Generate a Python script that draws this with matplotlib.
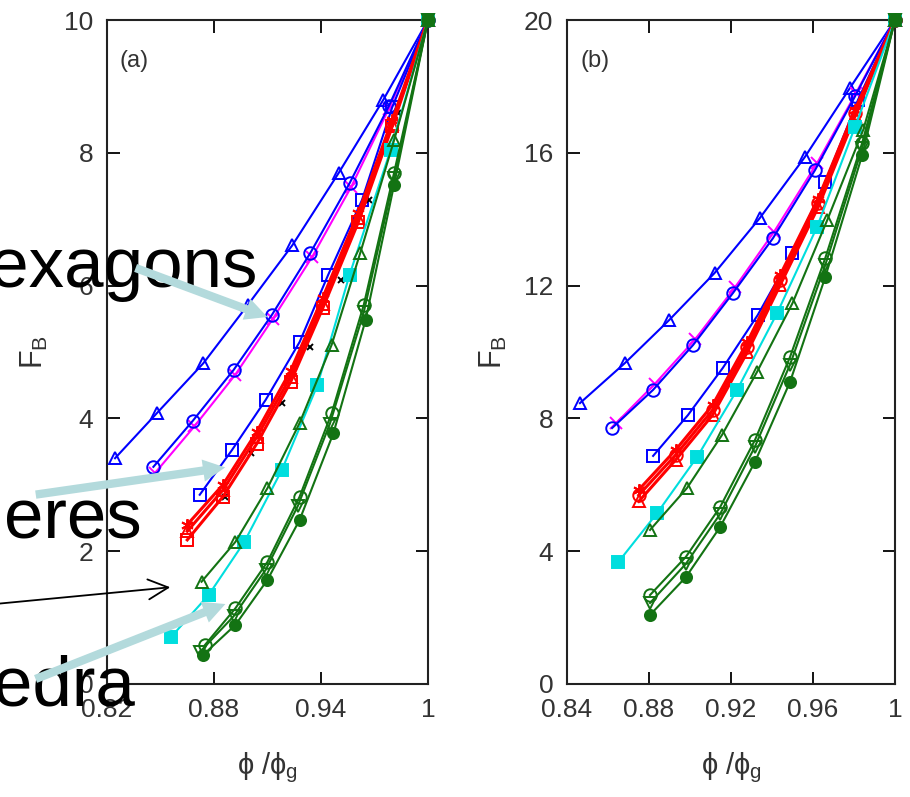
import matplotlib
matplotlib.use("Agg")
import matplotlib.pyplot as plt

plt.rcParams["font.family"] = ["Liberation Sans", "DejaVu Sans"]
plt.rcParams["mathtext.fontset"] = "custom"
plt.rcParams["mathtext.rm"] = "Liberation Sans"
plt.rcParams["mathtext.it"] = "Liberation Sans"

# ---- panel (a) data ----
a_tri_x = [0.8245, 0.848, 0.874, 0.899, 0.924, 0.950, 0.975, 1.0]
a_tri_y = [3.40, 4.08, 4.83, 5.71, 6.61, 7.70, 8.80, 10.0]
a_circ_x = [0.846, 0.868, 0.891, 0.9125, 0.934, 0.956, 0.978, 1.0]
a_circ_y = [3.27, 3.96, 4.73, 5.56, 6.49, 7.54, 8.70, 10.0]
a_mag_x = [0.847, 0.869, 0.892, 0.913, 0.935, 0.957, 0.978, 1.0]
a_mag_y = [3.18, 3.88, 4.66, 5.50, 6.43, 7.49, 8.66, 10.0]
a_sq_x = [0.872, 0.890, 0.909, 0.928, 0.944, 0.963, 0.980, 1.0]
a_sq_y = [2.85, 3.52, 4.28, 5.15, 6.16, 7.29, 8.69, 10.0]
a_blk_x = [0.886, 0.901, 0.918, 0.934, 0.951, 0.967, 0.983, 1.0]
a_blk_y = [2.82, 3.48, 4.23, 5.08, 6.08, 7.29, 8.60, 10.0]
a_red_x = [0.865, 0.885, 0.904, 0.923, 0.941, 0.961, 0.980, 1.0]
a_red1_y = [2.40, 3.00, 3.80, 4.72, 5.82, 7.10, 8.50, 10.0]
a_red2_y = [2.30, 2.92, 3.72, 4.63, 5.73, 7.02, 8.44, 10.0]
a_red3_y = [2.17, 2.82, 3.62, 4.55, 5.66, 6.96, 8.40, 10.0]
a_cyan_x = [0.856, 0.877, 0.897, 0.918, 0.938, 0.956, 0.979, 1.0]
a_cyan_y = [0.71, 1.34, 2.14, 3.22, 4.50, 6.16, 8.04, 10.0]
a_gtri_x = [0.873, 0.892, 0.910, 0.928, 0.946, 0.962, 0.981, 1.0]
a_gtri_y = [1.54, 2.14, 2.95, 3.93, 5.11, 6.49, 8.19, 10.0]
a_gcirc_x = [0.875, 0.892, 0.910, 0.928, 0.946, 0.964, 0.981, 1.0]
a_gcirc_y = [0.59, 1.14, 1.84, 2.82, 4.08, 5.71, 7.70, 10.0]
a_gdown_x = [0.872, 0.891, 0.909, 0.927, 0.945, 0.964, 0.981, 1.0]
a_gdown_y = [0.48, 1.02, 1.72, 2.68, 3.92, 5.60, 7.62, 10.0]
a_gfill_x = [0.874, 0.892, 0.910, 0.928, 0.947, 0.965, 0.981, 1.0]
a_gfill_y = [0.44, 0.89, 1.57, 2.47, 3.78, 5.48, 7.52, 10.0]

# ---- panel (b) data ----
b_tri_x = [0.8463, 0.8683, 0.8898, 0.912, 0.934, 0.956, 0.978, 1.0]
b_tri_y = [8.46, 9.67, 10.96, 12.38, 14.03, 15.87, 17.95, 20.0]
b_circ_x = [0.862, 0.882, 0.9015, 0.921, 0.9405, 0.961, 0.9805, 1.0]
b_circ_y = [7.71, 8.86, 10.21, 11.78, 13.43, 15.48, 17.70, 20.0]
b_mag_x = [0.864, 0.883, 0.9025, 0.922, 0.941, 0.962, 0.981, 1.0]
b_mag_y = [7.86, 9.05, 10.38, 11.95, 13.62, 15.69, 17.80, 20.0]
b_sq_x = [0.882, 0.899, 0.916, 0.933, 0.950, 0.966, 0.982, 1.0]
b_sq_y = [6.87, 8.10, 9.52, 11.11, 12.98, 15.12, 17.60, 20.0]
b_red_x = [0.875, 0.893, 0.911, 0.928, 0.944, 0.9625, 0.9805, 1.0]
b_red1_y = [5.85, 7.05, 8.40, 10.30, 12.32, 14.62, 17.30, 20.0]
b_red2_y = [5.69, 6.90, 8.25, 10.15, 12.17, 14.49, 17.20, 20.0]
b_red3_y = [5.50, 6.75, 8.10, 10.00, 12.02, 14.36, 17.10, 20.0]
b_cyan_x = [0.865, 0.884, 0.9035, 0.923, 0.9425, 0.962, 0.9805, 1.0]
b_cyan_y = [3.67, 5.15, 6.84, 8.86, 11.17, 13.77, 16.78, 20.0]
b_gtri_x = [0.8805, 0.8985, 0.9156, 0.9327, 0.950, 0.967, 0.9845, 1.0]
b_gtri_y = [4.64, 5.90, 7.50, 9.40, 11.47, 13.98, 16.69, 20.0]
b_gcirc_x = [0.8805, 0.898, 0.9147, 0.9317, 0.9488, 0.966, 0.984, 1.0]
b_gcirc_y = [2.68, 3.83, 5.33, 7.35, 9.85, 12.83, 16.30, 20.0]
b_gdown_y = [2.44, 3.62, 5.12, 7.15, 9.62, 12.62, 16.15, 20.0]
b_gfill_y = [2.08, 3.22, 4.73, 6.69, 9.10, 12.26, 15.93, 20.0]

BLUE = "#0000ff"
MAG = "#ff00ff"
RED = "#ff0000"
CYAN = "#00dede"
GREEN = "#137313"

fig = plt.figure(figsize=(9.1, 7.97), dpi=100)
axa = fig.add_axes([0.1176, 0.1418, 0.3527, 0.8331])
axb = fig.add_axes([0.6231, 0.1418, 0.3604, 0.8331])


def curve(ax, x, y, color, marker, filled=False, ms=9, lw=1.5):
    ax.plot(x, y, color=color, lw=lw, marker=marker, ms=ms, mew=1.4,
            mfc=color if filled else "none", mec=color, zorder=3,
            clip_on=False)


# panel (a)
curve(axa, a_tri_x, a_tri_y, BLUE, "^")
curve(axa, a_mag_x, a_mag_y, MAG, "x")
curve(axa, a_circ_x, a_circ_y, BLUE, "o")
curve(axa, a_sq_x, a_sq_y, BLUE, "s")
curve(axa, a_blk_x, a_blk_y, "black", "x", ms=5, lw=0.0)
curve(axa, a_red_x, a_red1_y, RED, (6, 2, 0), lw=2.2)
curve(axa, a_red_x, a_red2_y, RED, "^", lw=2.2)
curve(axa, a_red_x, a_red3_y, RED, "s", lw=2.2)
curve(axa, a_cyan_x, a_cyan_y, CYAN, "s", filled=True, ms=8)
curve(axa, a_gtri_x, a_gtri_y, GREEN, "^")
curve(axa, a_gcirc_x, a_gcirc_y, GREEN, "o")
curve(axa, a_gdown_x, a_gdown_y, GREEN, "v")
curve(axa, a_gfill_x, a_gfill_y, GREEN, "o", filled=True, ms=8)

# panel (b)
curve(axb, b_tri_x, b_tri_y, BLUE, "^")
curve(axb, b_mag_x, b_mag_y, MAG, "x")
curve(axb, b_circ_x, b_circ_y, BLUE, "o")
curve(axb, b_sq_x, b_sq_y, BLUE, "s")
curve(axb, b_red_x, b_red1_y, RED, (6, 2, 0), lw=2.2)
curve(axb, b_red_x, b_red2_y, RED, "o", lw=2.2)
curve(axb, b_red_x, b_red3_y, RED, "^", lw=2.2)
curve(axb, b_cyan_x, b_cyan_y, CYAN, "s", filled=True, ms=8)
curve(axb, b_gtri_x, b_gtri_y, GREEN, "^")
curve(axb, b_gcirc_x, b_gcirc_y, GREEN, "o")
curve(axb, b_gcirc_x, b_gdown_y, GREEN, "v")
curve(axb, b_gcirc_x, b_gfill_y, GREEN, "o", filled=True, ms=8)

tick_col = "#333333"
for ax, xt, xl, yt, ylim, lab in [
    (axa, [0.82, 0.88, 0.94, 1.0], ["0.82", "0.88", "0.94", "1"],
     [0, 2, 4, 6, 8, 10], (0, 10), "(a)"),
    (axb, [0.84, 0.88, 0.92, 0.96, 1.0], ["0.84", "0.88", "0.92", "0.96", "1"],
     [0, 4, 8, 12, 16, 20], (0, 20), "(b)"),
]:
    ax.set_xlim(xt[0], 1.0)
    ax.set_ylim(*ylim)
    ax.set_xticks(xt)
    ax.set_xticklabels(xl)
    ax.set_yticks(yt)
    ax.tick_params(direction="in", length=9, width=1.3, top=True, right=True,
                   labelsize=19, labelcolor=tick_col, pad=10)
    for s in ax.spines.values():
        s.set_linewidth(1.5)
        s.set_color("#222222")
    ax.set_xlabel(r"$\phi\ /\phi_{\rm g}$", fontsize=21, color=tick_col)
    ax.xaxis.set_label_coords(0.5, -0.1)
    ax.set_ylabel(r"F$_{\rm B}$", fontsize=22, color=tick_col)
    ax.yaxis.set_label_coords(-0.177, 0.5)
    ax.text(0.04, 0.955, lab, transform=ax.transAxes, fontsize=17,
            color=tick_col, va="top")

# big overlay labels with arrows (pixel coordinates, origin top-left)
W, H = 910, 797


def fpos(px, py):
    return (px / W, 1 - py / H)


ARROW = "#b3dadc"
fig.text(*fpos(257, 287), "Hexagons", fontsize=51, ha="right", va="baseline")
fig.text(*fpos(142, 538), "Spheres", fontsize=51, ha="right", va="baseline")
fig.text(*fpos(135, 705), "Tetrahedra", fontsize=51, ha="right", va="baseline")

for (x0, y0), (x1, y1) in [((133, 267), (270, 318)),
                           ((33, 495), (228, 467)),
                           ((33, 680), (228, 603))]:
    fig.patches.append(matplotlib.patches.FancyArrowPatch(
        fpos(x0, y0), fpos(x1, y1), transform=fig.transFigure,
        arrowstyle="simple,head_length=1.6,head_width=1.6,tail_width=0.6",
        mutation_scale=10, color=ARROW, lw=0, zorder=10))

fig.patches.append(matplotlib.patches.FancyArrowPatch(
    fpos(-5, 604), fpos(173, 587), transform=fig.transFigure,
    arrowstyle="->,head_length=1.2,head_width=0.6", mutation_scale=12,
    color="black", lw=1.3, zorder=10))

fig.savefig("out.png", dpi=100)
